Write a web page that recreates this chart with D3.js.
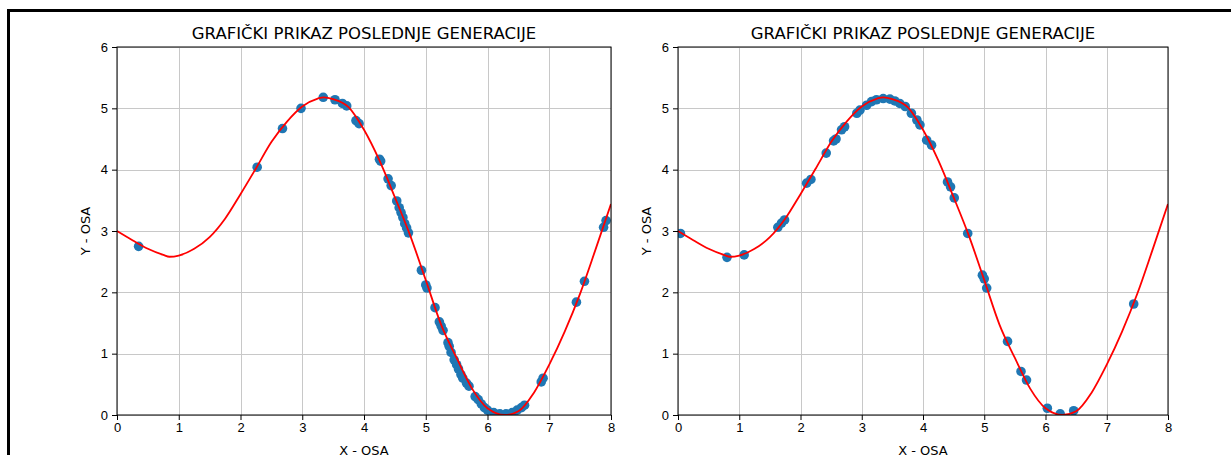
<!DOCTYPE html>
<html>
  <head>
    <meta charset="utf-8">
    <title>Grafički prikaz poslednje generacije</title>
    <script src="https://d3js.org/d3.v7.min.js"></script>
    <style>
      body { margin: 0; background: #fff; }
      svg { display: block; font-family: "DejaVu Sans", sans-serif; }
      .grid line { stroke: #c8c8c8; stroke-width: 1; }
      .axis path, .axis line { stroke: #000; }
      .axis text { font-size: 13px; fill: #000; }
    </style>
  </head>
  <body>
    <div id="chart"></div>
    <script>
      // the target curve
      var curveX = [0, 0.25, 0.5, 0.75, 0.85, 1, 1.25, 1.5, 1.75, 2, 2.25, 2.5, 2.75, 3, 3.25, 3.35, 3.5, 3.75, 4, 4.25, 4.5, 4.75, 5, 5.25, 5.5, 5.75, 6, 6.28, 6.5, 6.75, 7, 7.25, 7.5, 7.75, 8];
      var curveY = [3.00, 2.85, 2.71, 2.61, 2.58, 2.60, 2.71, 2.90, 3.20, 3.60, 4.02, 4.45, 4.78, 5.03, 5.16, 5.18, 5.15, 5.02, 4.65, 4.15, 3.55, 2.92, 2.20, 1.47, 0.93, 0.43, 0.11, 0.00, 0.06, 0.36, 0.82, 1.36, 1.98, 2.70, 3.44];
      // population, left panel
      var leftX = [0.35, 2.27, 2.68, 2.98, 3.34, 3.53, 3.65, 3.72, 3.87, 3.92, 4.25, 4.27, 4.39, 4.44, 4.53, 4.57, 4.60, 4.63, 4.66, 4.69, 4.72, 4.93, 5.00, 5.02, 5.15, 5.22, 5.25, 5.28, 5.36, 5.38, 5.41, 5.46, 5.50, 5.53, 5.57, 5.60, 5.66, 5.70, 5.80, 5.85, 5.90, 5.95, 6.00, 6.10, 6.20, 6.30, 6.40, 6.48, 6.55, 6.60, 6.87, 6.90, 7.44, 7.57, 7.88, 7.92];
      var leftY = [2.75, 4.04, 4.67, 5.00, 5.18, 5.14, 5.08, 5.04, 4.80, 4.75, 4.17, 4.14, 3.85, 3.74, 3.49, 3.38, 3.30, 3.22, 3.12, 3.05, 2.97, 2.36, 2.12, 2.07, 1.75, 1.52, 1.45, 1.38, 1.18, 1.12, 1.02, 0.90, 0.82, 0.75, 0.66, 0.60, 0.52, 0.47, 0.30, 0.25, 0.18, 0.12, 0.08, 0.04, 0.02, 0.02, 0.04, 0.08, 0.12, 0.16, 0.54, 0.60, 1.84, 2.18, 3.06, 3.17];
      // population, right panel
      var rightX = [0.04, 0.80, 1.08, 1.63, 1.69, 1.74, 2.10, 2.17, 2.42, 2.54, 2.58, 2.67, 2.72, 2.92, 2.97, 3.08, 3.16, 3.24, 3.35, 3.46, 3.54, 3.62, 3.71, 3.81, 3.90, 3.95, 4.06, 4.14, 4.40, 4.45, 4.51, 4.73, 4.97, 5.00, 5.04, 5.38, 5.60, 5.69, 6.03, 6.24, 6.46, 7.44];
      var rightY = [2.96, 2.57, 2.61, 3.06, 3.13, 3.18, 3.78, 3.84, 4.27, 4.47, 4.50, 4.65, 4.70, 4.92, 4.97, 5.05, 5.11, 5.14, 5.16, 5.15, 5.12, 5.08, 5.03, 4.92, 4.81, 4.73, 4.48, 4.40, 3.80, 3.72, 3.54, 2.96, 2.28, 2.22, 2.07, 1.20, 0.71, 0.57, 0.11, 0.02, 0.07, 1.81];
      var xTicks = [0, 1, 2, 3, 4, 5, 6, 7, 8];
      var yTicks = [0, 1, 2, 3, 4, 5, 6];
      var title = "GRAFIČKI PRIKAZ POSLEDNJE GENERACIJE";

      var width = 1231, height = 455;
      svg = d3.select("#chart")
        .append("svg")
        .attr("width", width)
        .attr("height", height);

      // figure frame
      svg.append("rect")
        .attr("x", 8.5)
        .attr("y", 10.5)
        .attr("width", width + 20)
        .attr("height", height + 20)
        .attr("fill", "none")
        .attr("stroke", "#000")
        .attr("stroke-width", 3);

      var curve = curveX.map(function(d, i) { return [d, curveY[i]]; });

      drawPanel({ left: 117, right: 611, top: 47, bottom: 415 }, leftX, leftY);
      drawPanel({ left: 678, right: 1168, top: 47, bottom: 415 }, rightX, rightY);

      function drawPanel(box, px, py) {
        var x = d3.scaleLinear().domain([0, 8]).range([box.left, box.right]);
        var y = d3.scaleLinear().domain([0, 6]).range([box.bottom, box.top]);
        var g = svg.append("g");

        // clip to the axes area
        var id = "clip" + box.left;
        g.append("clipPath")
          .attr("id", id)
          .append("rect")
            .attr("x", box.left)
            .attr("y", box.top)
            .attr("width", box.right - box.left)
            .attr("height", box.bottom - box.top);

        // grid
        var grid = g.append("g").attr("class", "grid");
        grid.selectAll(".gx")
            .data(xTicks)
          .enter().append("line")
            .attr("x1", function(d) { return Math.round(x(d)) + 0.5; })
            .attr("x2", function(d) { return Math.round(x(d)) + 0.5; })
            .attr("y1", box.top)
            .attr("y2", box.bottom);
        grid.selectAll(".gy")
            .data(yTicks)
          .enter().append("line")
            .attr("y1", function(d) { return Math.round(y(d)) + 0.5; })
            .attr("y2", function(d) { return Math.round(y(d)) + 0.5; })
            .attr("x1", box.left)
            .attr("x2", box.right);

        // population
        g.append("g")
          .attr("clip-path", "url(#" + id + ")")
          .selectAll("circle")
            .data(px)
          .enter().append("circle")
            .attr("cx", function(d) { return x(d); })
            .attr("cy", function(d, i) { return y(py[i]); })
            .attr("r", 4.8)
            .attr("fill", "#1f77b4");

        // function curve
        g.append("path")
          .datum(curve)
          .attr("clip-path", "url(#" + id + ")")
          .attr("fill", "none")
          .attr("stroke", "#ff0000")
          .attr("stroke-width", 1.8)
          .attr("d", d3.line()
            .x(function(d) { return x(d[0]); })
            .y(function(d) { return y(d[1]); })
            .curve(d3.curveMonotoneX));

        // axes
        g.append("g")
          .attr("class", "axis")
          .attr("transform", "translate(0," + box.bottom + ")")
          .call(d3.axisBottom(x).tickValues(xTicks).tickSize(5).tickPadding(3).tickFormat(d3.format("d")))
          .call(function(a) { a.select(".domain").remove(); });
        g.append("g")
          .attr("class", "axis")
          .attr("transform", "translate(" + box.left + ",0)")
          .call(d3.axisLeft(y).tickValues(yTicks).tickSize(5).tickPadding(4).tickFormat(d3.format("d")))
          .call(function(a) { a.select(".domain").remove(); });

        // spines
        g.append("rect")
          .attr("x", box.left)
          .attr("y", box.top)
          .attr("width", box.right - box.left)
          .attr("height", box.bottom - box.top)
          .attr("fill", "none")
          .attr("stroke", "#000")
          .attr("stroke-width", 1);

        // texts
        g.append("text")
          .attr("x", (box.left + box.right) / 2)
          .attr("y", box.top - 8)
          .attr("text-anchor", "middle")
          .style("font-size", "16.5px")
          .text(title);
        g.append("text")
          .attr("x", (box.left + box.right) / 2)
          .attr("y", box.bottom + 40)
          .attr("text-anchor", "middle")
          .style("font-size", "13px")
          .text("X - OSA");
        g.append("text")
          .attr("transform", "translate(" + (box.left - 27) + "," + ((box.top + box.bottom) / 2) + ") rotate(-90)")
          .attr("text-anchor", "middle")
          .style("font-size", "13px")
          .text("Y - OSA");
      }
    </script>
  </body>
</html>
